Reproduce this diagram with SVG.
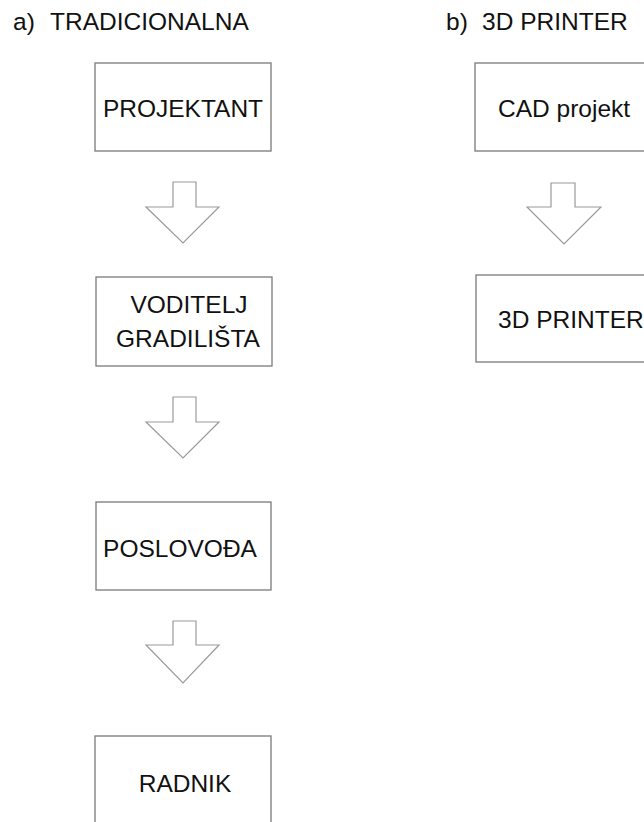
<svg xmlns="http://www.w3.org/2000/svg" width="644" height="822" viewBox="0 0 644 822">
<style>
.box{fill:#fff;stroke:#7a7a7a;stroke-width:1.3}
.arr{fill:#fff;stroke:#9a9a9a;stroke-width:1.2;stroke-linejoin:miter}
text{font-family:"Liberation Sans",Arial,sans-serif;font-size:24.5px;fill:#111}
.c{text-anchor:middle}
</style>
<rect width="644" height="822" fill="#fff"/>
<g id="titles">
<text x="13" y="30">a)<tspan x="50">TRADICIONALNA</tspan></text>
<text x="446" y="30">b)<tspan x="482">3D PRINTER</tspan></text>
</g>
<g id="connectors">
<path class="arr" d="M173,182 H196 V207 H219 L183,243 L146,207 H173 Z"/>
<path class="arr" d="M173,397 H196 V422 H219 L183,458 L146,422 H173 Z"/>
<path class="arr" d="M173,621 H196 V645 H219 L183,683 L146,645 H173 Z"/>
<path class="arr" d="M551,183 H575 V207 H601 L564,244 L527,207 H551 Z"/>
</g>
<g id="projektant">
<rect class="box" x="95" y="63" width="176" height="88"/>
<text class="c" x="183" y="117">PROJEKTANT</text>
</g>
<g id="voditelj">
<rect class="box" x="96" y="277" width="176" height="89"/>
<text class="c" x="189" y="313">VODITELJ</text>
<text class="c" x="188" y="347">GRADILIŠTA</text>
</g>
<g id="poslovodja">
<rect class="box" x="96" y="502" width="175" height="88"/>
<text class="c" x="180" y="557">POSLOVOĐA</text>
</g>
<g id="radnik">
<rect class="box" x="95" y="736" width="176" height="100"/>
<text class="c" x="185" y="792">RADNIK</text>
</g>
<g id="cad">
<rect class="box" x="475" y="63" width="180" height="88"/>
<text x="498" y="117">CAD projekt</text>
</g>
<g id="printer">
<rect class="box" x="476" y="275" width="180" height="87"/>
<text x="498" y="328">3D PRINTER</text>
</g>
</svg>
